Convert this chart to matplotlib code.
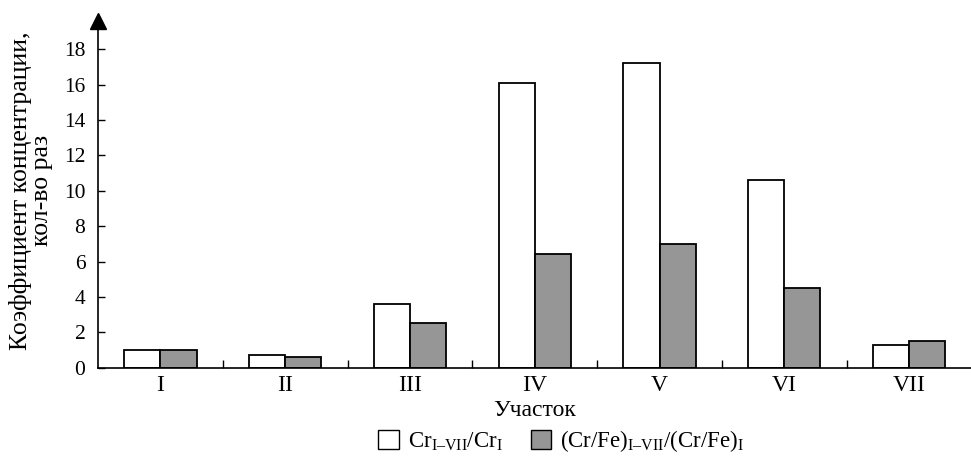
import numpy as np
import matplotlib.pyplot as plt
from matplotlib.patches import Patch

plt.rcParams['font.family'] = ['Liberation Serif', 'DejaVu Serif']
plt.rcParams['mathtext.fontset'] = 'custom'
plt.rcParams['mathtext.rm'] = 'Liberation Serif'
plt.rcParams['mathtext.it'] = 'Liberation Serif:italic'

# участки и коэффициенты концентрации
sites = ['I', 'II', 'III', 'IV', 'V', 'VI', 'VII']
cr_ratio = [1.0, 0.72, 3.6, 16.1, 17.2, 10.6, 1.3]
crfe_ratio = [1.0, 0.6, 2.55, 6.4, 7.0, 4.5, 1.5]

fig = plt.figure(figsize=(9.71, 4.61), dpi=100)
ax = fig.add_axes([0.1009, 0.2024, 0.8996, 0.7675])

pos = np.arange(len(sites))
w = 0.29
ax.bar(pos - w / 2, cr_ratio, w, color='white', edgecolor='black', linewidth=1.3)
ax.bar(pos + w / 2, crfe_ratio, w, color='#969696', edgecolor='black', linewidth=1.3)

ax.set_xlim(-0.5, len(sites) - 0.5)
ax.set_ylim(0, 20)
ax.set_yticks(np.arange(0, 19, 2))
ax.set_xticks(pos)
ax.set_xticklabels(sites)
ax.set_xticks(pos[:-1] + 0.5, minor=True)
ax.tick_params(axis='x', which='major', length=0, labelsize=17, pad=5)
ax.tick_params(axis='x', which='minor', direction='in', length=6, width=1)
ax.tick_params(axis='y', direction='in', length=5, width=1, labelsize=15.5, pad=9)

for s in ['top', 'right']:
    ax.spines[s].set_visible(False)
ax.spines['left'].set_linewidth(1.2)
ax.spines['bottom'].set_linewidth(1.2)
ax.spines['left'].set_bounds(0, 19.6)
ax.plot([-0.5], [19.6], marker='^', color='black', markersize=12,
        clip_on=False, transform=ax.transData)

ax.set_xlabel('Участок', fontsize=17, labelpad=3)
ax.set_ylabel('Коэффициент концентрации,\nкол-во раз', fontsize=18.5,
              labelpad=8, linespacing=0.95)

handles = [Patch(facecolor='white', edgecolor='black', linewidth=1),
           Patch(facecolor='#969696', edgecolor='black', linewidth=1)]
labels = [r'Cr$_\mathrm{I–VII}$/Cr$_\mathrm{I}$',
          r'(Cr/Fe)$_\mathrm{I–VII}$/(Cr/Fe)$_\mathrm{I}$']
fig.legend(handles, labels, loc='lower center', bbox_to_anchor=(0.578, -0.03),
           ncol=2, frameon=False, fontsize=16.5, handlelength=0.9,
           handleheight=0.9, handletextpad=0.4, columnspacing=1.2)

fig.savefig('out.png', dpi=100)
